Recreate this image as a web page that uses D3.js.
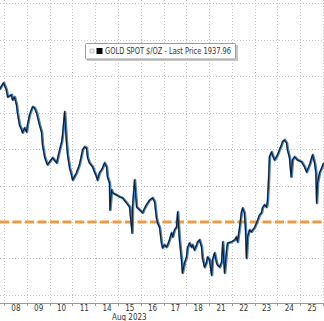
<!DOCTYPE html>
<html>
<head>
<meta charset="utf-8">
<script src="https://cdn.jsdelivr.net/npm/d3@7"></script>
<style>
  body { margin: 0; background: #fff; }
  svg { display: block; }
  text { font-family: "DejaVu Sans Condensed", "Liberation Sans", sans-serif; fill: #333; }
</style>
</head>
<body>
<svg width="324" height="321"></svg>
<script>
// trading days shown on the axis (weekends skipped)
const days = ["08", "09", "10", "11", "14", "15", "16", "17", "18", "21", "22", "23", "24", "25"];
const monthLabel = "Aug 2023";
const legendText = "GOLD SPOT $/OZ - Last Price 1937.96";
const refLevel = 1900;
const priceTicks = [1880, 1890, 1900, 1910, 1920, 1930, 1940, 1950, 1960];

// session position (1 = start of 08 Aug) and price
const sessionPos = [
  0.82, 0.90, 1.00, 1.12, 1.18, 1.35, 1.39, 1.48, 1.57, 1.61, 1.70, 1.79, 1.83, 1.92,
  2.01, 2.05, 2.14, 2.27, 2.36, 2.45, 2.58, 2.67, 2.71, 2.80, 2.89, 2.93,
  3.02, 3.15, 3.33, 3.46, 3.55, 3.59, 3.68, 3.76, 3.81, 3.90, 3.98,
  4.03, 4.20, 4.33, 4.47, 4.55, 4.64, 4.69, 4.77, 4.91, 4.99,
  5.08, 5.12, 5.21, 5.30, 5.34, 5.43, 5.52, 5.56, 5.65, 5.67, 5.74, 5.78, 5.96,
  6.09, 6.22, 6.40, 6.53, 6.64, 6.66, 6.75, 6.84, 6.97,
  7.10, 7.19, 7.27, 7.41, 7.54, 7.63, 7.71, 7.76, 7.85, 7.93, 7.98,
  8.06, 8.15, 8.20, 8.28, 8.37, 8.42, 8.50, 8.59, 8.64, 8.72, 8.81, 8.85, 8.94,
  9.03, 9.07, 9.16, 9.25, 9.29, 9.38, 9.47, 9.51, 9.60, 9.69, 9.73, 9.82, 9.91, 9.95,
  10.04, 10.13, 10.17, 10.26, 10.35, 10.39, 10.48, 10.57, 10.62, 10.70, 10.79, 10.83,
  11.00, 11.14, 11.22, 11.27, 11.36, 11.44, 11.49, 11.57, 11.62, 11.66, 11.71, 11.79, 11.88, 11.93,
  12.01, 12.10, 12.15, 12.23, 12.32, 12.36, 12.45, 12.54, 12.58, 12.63, 12.67, 12.76, 12.80, 12.89, 12.98,
  13.02, 13.11, 13.20, 13.24, 13.33, 13.42, 13.46, 13.55, 13.62, 13.68, 13.77, 13.90,
  14.08, 14.21, 14.30, 14.34, 14.43, 14.52, 14.56, 14.65, 14.71, 14.74, 14.78, 14.87, 14.96, 15.05
];
const prices = [
  1936.3, 1937.2, 1938.2, 1936.3, 1934.3, 1934.9, 1933.5, 1934.3, 1932.1, 1929.9, 1926.6, 1925.3, 1924.5, 1925.8,
  1924.7, 1926.6, 1929.4, 1931.6, 1931.3, 1929.9, 1926.6, 1924.5, 1921.2, 1917.9, 1916.2, 1915.7,
  1916.5, 1917.6, 1916.2, 1919.8, 1922.0, 1923.9, 1930.2, 1922.0, 1918.4, 1914.8, 1912.9,
  1911.5, 1913.5, 1915.7, 1919.8, 1920.6, 1920.3, 1917.6, 1916.2, 1915.1, 1913.7,
  1912.4, 1911.5, 1913.5, 1914.3, 1914.8, 1916.2, 1915.1, 1912.4, 1910.7, 1903.3, 1908.8, 1908.0, 1907.4,
  1906.9, 1906.6, 1905.2, 1904.1, 1897.0, 1904.1, 1911.5, 1904.1, 1903.3,
  1902.5, 1903.8, 1904.7, 1906.0, 1906.6, 1905.5, 1901.1, 1899.7, 1898.4, 1894.2, 1892.9,
  1893.7, 1893.1, 1893.7, 1895.1, 1897.0, 1895.9, 1897.8, 1898.6, 1902.7, 1895.1, 1889.6, 1886.0, 1888.7,
  1890.4, 1892.9, 1894.2, 1893.1, 1893.7, 1892.3, 1893.7, 1894.5, 1895.1, 1893.1, 1890.1, 1887.6, 1889.0, 1890.4,
  1889.6, 1885.4, 1889.6, 1891.5, 1888.7, 1888.2, 1887.6, 1889.0, 1894.5, 1886.0, 1892.3, 1894.2,
  1894.5, 1895.1, 1895.9, 1894.5, 1898.6, 1902.7, 1903.8, 1902.5, 1897.8, 1890.1, 1895.9, 1897.8, 1897.3, 1897.8,
  1898.4, 1899.7, 1900.5, 1901.9, 1902.5, 1903.8, 1904.7, 1904.1, 1905.5, 1911.5, 1917.9, 1919.2, 1918.4, 1917.0, 1917.9,
  1918.4, 1919.8, 1921.2, 1922.0, 1922.5, 1921.7, 1919.8, 1917.6, 1912.4, 1917.0, 1917.9, 1917.0,
  1916.5, 1915.1, 1913.7, 1914.3, 1915.7, 1917.6, 1918.4, 1916.2, 1913.5, 1905.2, 1910.7, 1913.5, 1914.8, 1916.2
];

const svg = d3.select("svg");
const W = 324, axisY = 303;

const x = d3.scaleLinear().domain([1, 15]).range([4, 323]);
const y = d3.scaleLinear().domain([1880, 1960]).range([294.9, 3.3]);

const series = sessionPos.map((p, i) => [p, prices[i]]);

// grid
const grid = svg.append("g")
    .attr("stroke", "#c4c4c4")
    .attr("stroke-width", 1)
    .attr("stroke-dasharray", "1,2");

grid.selectAll("line.h")
    .data(priceTicks)
    .join("line")
    .attr("class", "h")
    .attr("x1", 0).attr("x2", W)
    .attr("y1", d => Math.round(y(d)) + 0.5)
    .attr("y2", d => Math.round(y(d)) + 0.5);

grid.selectAll("line.v")
    .data(d3.range(1, days.length + 2))
    .join("line")
    .attr("class", "v")
    .attr("y1", 0).attr("y2", axisY)
    .attr("x1", d => Math.round(x(d)) + 0.5)
    .attr("x2", d => Math.round(x(d)) + 0.5);

// reference level
svg.append("line")
    .attr("x1", 0).attr("x2", W)
    .attr("y1", y(refLevel)).attr("y2", y(refLevel))
    .attr("stroke", "#e99c45")
    .attr("stroke-width", 3)
    .attr("stroke-dasharray", "9,3.5");

// price line: blue underlay with a dark line on top
const line = d3.line()
    .x(d => x(d[0]))
    .y(d => y(d[1]));

svg.append("path")
    .datum(series)
    .attr("d", line)
    .attr("fill", "none")
    .attr("stroke", "#4682c4")
    .attr("stroke-width", 2.6)
    .attr("stroke-linejoin", "round");

svg.append("path")
    .datum(series)
    .attr("d", line)
    .attr("transform", "translate(-0.5,0)")
    .attr("fill", "none")
    .attr("stroke", "#141a22")
    .attr("stroke-width", 1.1)
    .attr("stroke-linejoin", "round");

// x axis
const xAxis = d3.axisBottom(x)
    .tickValues(days.map((d, i) => i + 1.5))
    .tickFormat((d, i) => days[i])
    .tickSize(0)
    .tickPadding(2);

const gx = svg.append("g")
    .attr("transform", `translate(0,${axisY})`)
    .call(xAxis);
gx.select(".domain").remove();
gx.selectAll("text")
    .style("font-size", "8px")
    .attr("fill", "#333");

svg.append("line")
    .attr("x1", 0).attr("x2", W)
    .attr("y1", axisY + 0.5).attr("y2", axisY + 0.5)
    .attr("stroke", "#9a9a9a");

svg.selectAll("line.tk")
    .data(d3.range(1, days.length + 2))
    .join("line")
    .attr("class", "tk")
    .attr("x1", d => Math.round(x(d)) + 0.5)
    .attr("x2", d => Math.round(x(d)) + 0.5)
    .attr("y1", axisY).attr("y2", axisY + 3)
    .attr("stroke", "#9a9a9a");

svg.append("text")
    .attr("x", x(6.5))
    .attr("y", 320)
    .attr("text-anchor", "middle")
    .style("font-size", "8px")
    .text(monthLabel);

// legend
const lg = svg.append("g").attr("transform", "translate(85.5,43.5)");
lg.append("rect")
    .attr("x", 1.5).attr("y", 1.5)
    .attr("width", 151).attr("height", 16)
    .attr("fill", "#c8c8c8");
lg.append("rect")
    .attr("width", 150).attr("height", 15.5)
    .attr("rx", 1)
    .attr("fill", "#fff")
    .attr("stroke", "#9c9c9c");
lg.append("rect")
    .attr("x", 4.5).attr("y", 5.5)
    .attr("width", 4).attr("height", 4)
    .attr("fill", "#eee")
    .attr("stroke", "#aaa")
    .attr("stroke-width", 0.6);
lg.append("rect")
    .attr("x", 11).attr("y", 4.5)
    .attr("width", 6).attr("height", 6)
    .attr("fill", "#000");
lg.append("text")
    .attr("x", 19.5)
    .attr("y", 10.8)
    .attr("textLength", 126)
    .attr("lengthAdjust", "spacingAndGlyphs")
    .style("font-size", "8.5px")
    .attr("fill", "#222")
    .text(legendText);
</script>
</body>
</html>
